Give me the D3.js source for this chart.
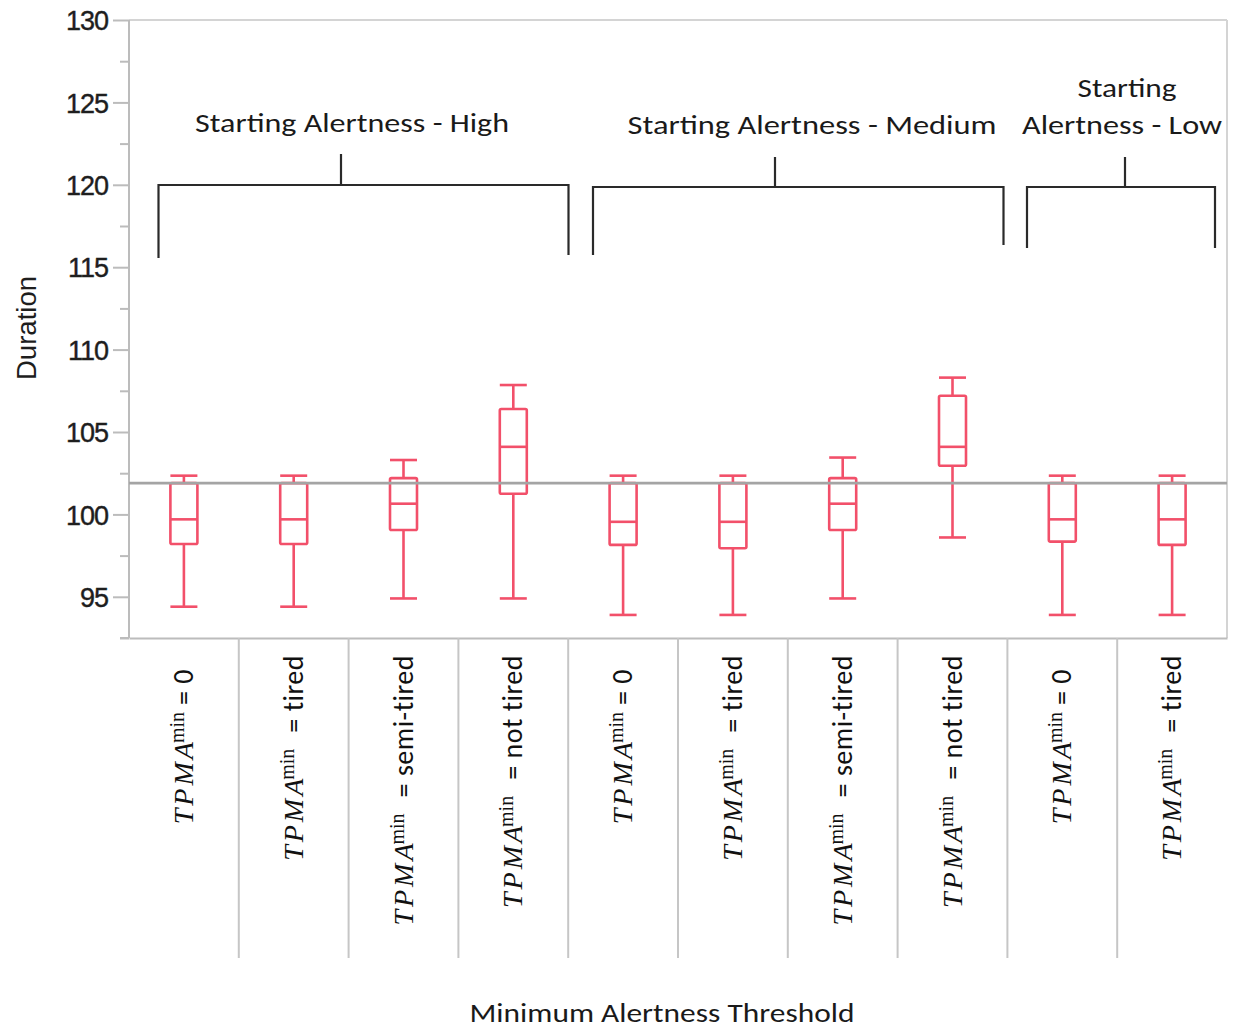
<!DOCTYPE html>
<html>
<head>
<meta charset="utf-8">
<script src="https://cdn.jsdelivr.net/npm/d3@7/dist/d3.min.js"></script>
<style>
  html, body { margin: 0; padding: 0; background: #ffffff; }
  svg { display: block; }
</style>
</head>
<body>
<svg id="chart" width="1233" height="1028"></svg>
<script>
// Duration by minimum alertness threshold, grouped by starting alertness
const groupNames = ["High", "Medium", "Low"];
const groupOf = ["High", "High", "High", "High", "Medium", "Medium", "Medium", "Medium", "Low", "Low"];
const thresholds = ["0", "tired", "semi-tired", "not tired", "0", "tired", "semi-tired", "not tired", "0", "tired"];

// Box-plot summaries (whisker ends, quartiles, median)
const whiskerLow  = [94.4, 94.4, 94.9, 94.9, 93.9, 93.9, 94.9, 98.6, 93.9, 93.9];
const q1          = [98.2, 98.2, 99.05, 101.25, 98.15, 97.95, 99.05, 102.95, 98.35, 98.15];
const median      = [99.7, 99.7, 100.65, 104.1, 99.55, 99.55, 100.65, 104.1, 99.7, 99.7];
const q3          = [101.9, 101.9, 102.2, 106.4, 101.9, 101.9, 102.2, 107.2, 101.9, 101.9];
const whiskerHigh = [102.35, 102.35, 103.3, 107.85, 102.35, 102.35, 103.45, 108.3, 102.35, 102.35];

const referenceValue = 101.9;
const majorTicks = [95, 100, 105, 110, 115, 120, 125, 130];
const minorTicks = [92.5, 97.5, 102.5, 107.5, 112.5, 117.5, 122.5, 127.5];

const yTitle = "Duration";
const xTitle = "Minimum Alertness Threshold";
const groupTitleLines = [["Starting Alertness - High"], ["Starting Alertness -  Medium"], ["Starting", "Alertness - Low"]];

// ---------------------------------------------------------------------
const svg = d3.select("#chart");
const W = 1233, H = 1028;
svg.append("rect").attr("width", W).attr("height", H).attr("fill", "#fff");

const plotLeft = 129, plotRight = 1227, plotTop = 20, plotBottom = 638;
const keys = thresholds.map((t, i) => groupOf[i] + "|" + t);

const x = d3.scaleBand().domain(keys).range([plotLeft, plotRight]).padding(0);
const y = d3.scaleLinear().domain([92.5, 130]).range([plotBottom, plotTop]);

const boxColor = "#f2506a";
const axisGrey = "#bcbcbc";
const sansA = "'Liberation Sans', Arial, sans-serif";
const sansB = "Carlito, Calibri, Lato, 'Open Sans', sans-serif";

// frame: top and right borders
svg.append("line").attr("x1", plotLeft).attr("x2", plotRight).attr("y1", plotTop).attr("y2", plotTop)
  .attr("stroke", "#d4d4d4").attr("stroke-width", 2);
svg.append("line").attr("x1", plotRight).attr("x2", plotRight).attr("y1", plotTop).attr("y2", plotBottom)
  .attr("stroke", "#d4d4d4").attr("stroke-width", 2);

// y axis: major ticks with labels, minor ticks without
const yMajor = d3.axisLeft(y).tickValues(majorTicks).tickSize(16).tickPadding(5).tickFormat(d3.format("d"));
const yMinor = d3.axisLeft(y).tickValues(minorTicks).tickSize(9).tickFormat("");

const gMinor = svg.append("g").attr("transform", `translate(${plotLeft},0)`).call(yMinor);
const gMajor = svg.append("g").attr("transform", `translate(${plotLeft},0)`).call(yMajor);
[gMinor, gMajor].forEach(g => {
  g.select(".domain").remove();
  g.selectAll(".tick line").attr("stroke", axisGrey).attr("stroke-width", 2);
});
gMajor.selectAll(".tick text")
  .attr("fill", "#1e1e1e").attr("font-family", sansA).attr("font-size", 27)
  .attr("letter-spacing", "-1px").attr("dy", "0.36em")
  .attr("stroke", "#1e1e1e").attr("stroke-width", 0.4);

svg.append("line").attr("x1", plotLeft).attr("x2", plotLeft).attr("y1", plotTop).attr("y2", plotBottom)
  .attr("stroke", axisGrey).attr("stroke-width", 2);

// bottom axis line and category separators
const gx = svg.append("g").attr("transform", `translate(0,${plotBottom})`)
  .call(d3.axisBottom(x).tickSize(0).tickFormat(""));
gx.select(".domain").attr("stroke", axisGrey).attr("stroke-width", 2);
svg.append("line").attr("x1", 120).attr("x2", plotLeft).attr("y1", plotBottom).attr("y2", plotBottom)
  .attr("stroke", axisGrey).attr("stroke-width", 2);

svg.append("g").selectAll("line").data(keys.slice(1)).join("line")
  .attr("x1", d => x(d)).attr("x2", d => x(d))
  .attr("y1", plotBottom).attr("y2", 958)
  .attr("stroke", "#c6c6c6").attr("stroke-width", 2);

// boxes
const bw = 27;
const boxes = svg.append("g").attr("fill", "none").attr("stroke", boxColor).attr("stroke-width", 2.6);
keys.forEach((k, i) => {
  const cx = x(k) + x.bandwidth() / 2;
  const g = boxes.append("g");
  g.append("line").attr("x1", cx).attr("x2", cx).attr("y1", y(whiskerHigh[i])).attr("y2", y(q3[i]));
  g.append("line").attr("x1", cx).attr("x2", cx).attr("y1", y(q1[i])).attr("y2", y(whiskerLow[i]));
  g.append("line").attr("x1", cx - bw / 2).attr("x2", cx + bw / 2).attr("y1", y(whiskerHigh[i])).attr("y2", y(whiskerHigh[i]));
  g.append("line").attr("x1", cx - bw / 2).attr("x2", cx + bw / 2).attr("y1", y(whiskerLow[i])).attr("y2", y(whiskerLow[i]));
  g.append("rect").attr("x", cx - bw / 2).attr("width", bw)
    .attr("y", y(q3[i])).attr("height", y(q1[i]) - y(q3[i])).attr("rx", 1.5);
  g.append("line").attr("x1", cx - bw / 2).attr("x2", cx + bw / 2).attr("y1", y(median[i])).attr("y2", y(median[i]));
});

// reference line
svg.append("line").attr("x1", plotLeft).attr("x2", plotRight)
  .attr("y1", y(referenceValue)).attr("y2", y(referenceValue))
  .attr("stroke", "#a4a4a4").attr("stroke-width", 2.6);

// category labels (rotated, reading upward)
const xl = svg.append("g");
keys.forEach((k, i) => {
  const cx = x(k) + x.bandwidth() / 2;
  const isZero = thresholds[i] === "0";
  const endY = isZero ? 669 : 655;
  const t = xl.append("text")
    .attr("transform", `translate(${cx},${endY}) rotate(-90)`)
    .attr("text-anchor", "end").attr("fill", "#111");
  t.append("tspan").attr("dy", 9)
    .attr("font-family", "'Liberation Serif', 'DejaVu Serif', serif")
    .attr("font-style", "italic").attr("font-size", 28).attr("letter-spacing", "3px")
    .text("TPMA");
  t.append("tspan").attr("dy", -9).attr("dx", -4)
    .attr("font-family", "'Liberation Serif', 'DejaVu Serif', serif")
    .attr("font-size", 20).text("min");
  t.append("tspan").attr("dy", 9).attr("dx", isZero ? 7 : 16)
    .attr("font-family", sansB).attr("font-size", 28).attr("letter-spacing", "0.5px")
    .text("= " + thresholds[i]);
});

// group brackets
const bracketLayout = [
  { x0: 158.5, x1: 568.5, stem: 341, bar: 185, stemTop: 154, leg0: 258, leg1: 255, ty: [132] },
  { x0: 593, x1: 1003.5, stem: 775, bar: 187, stemTop: 157, leg0: 255, leg1: 245, ty: [134] },
  { x0: 1027, x1: 1215, stem: 1125, bar: 187, stemTop: 157, leg0: 248, leg1: 248, ty: [97, 134] }
];
const titleWidths = [[314], [369], [99, 200]];
const titleCenters = [[352], [812], [1127, 1122]];

groupNames.forEach((gname, gi) => {
  const b = bracketLayout[gi];
  svg.append("path")
    .attr("d", `M${b.x0},${b.leg0} V${b.bar} H${b.x1} V${b.leg1} M${b.stem},${b.bar} V${b.stemTop}`)
    .attr("fill", "none").attr("stroke", "#2a2a2a").attr("stroke-width", 2.2);
  groupTitleLines[gi].forEach((line, li) => {
    svg.append("text")
      .attr("x", titleCenters[gi][li]).attr("y", b.ty[li])
      .attr("text-anchor", "middle")
      .attr("font-family", sansB).attr("font-size", 26).attr("fill", "#1a1a1a")
      .attr("textLength", titleWidths[gi][li]).attr("lengthAdjust", "spacingAndGlyphs")
      .text(line);
  });
});

// axis titles
svg.append("text")
  .attr("transform", "translate(36,328) rotate(-90)")
  .attr("text-anchor", "middle")
  .attr("font-family", sansA).attr("font-size", 27).attr("fill", "#1e1e1e")
  .attr("textLength", 104).attr("lengthAdjust", "spacingAndGlyphs")
  .text(yTitle);

svg.append("text")
  .attr("x", 662).attr("y", 1022).attr("text-anchor", "middle")
  .attr("font-family", sansB).attr("font-size", 26).attr("fill", "#1a1a1a")
  .attr("textLength", 385).attr("lengthAdjust", "spacingAndGlyphs")
  .text(xTitle);
</script>
</body>
</html>
